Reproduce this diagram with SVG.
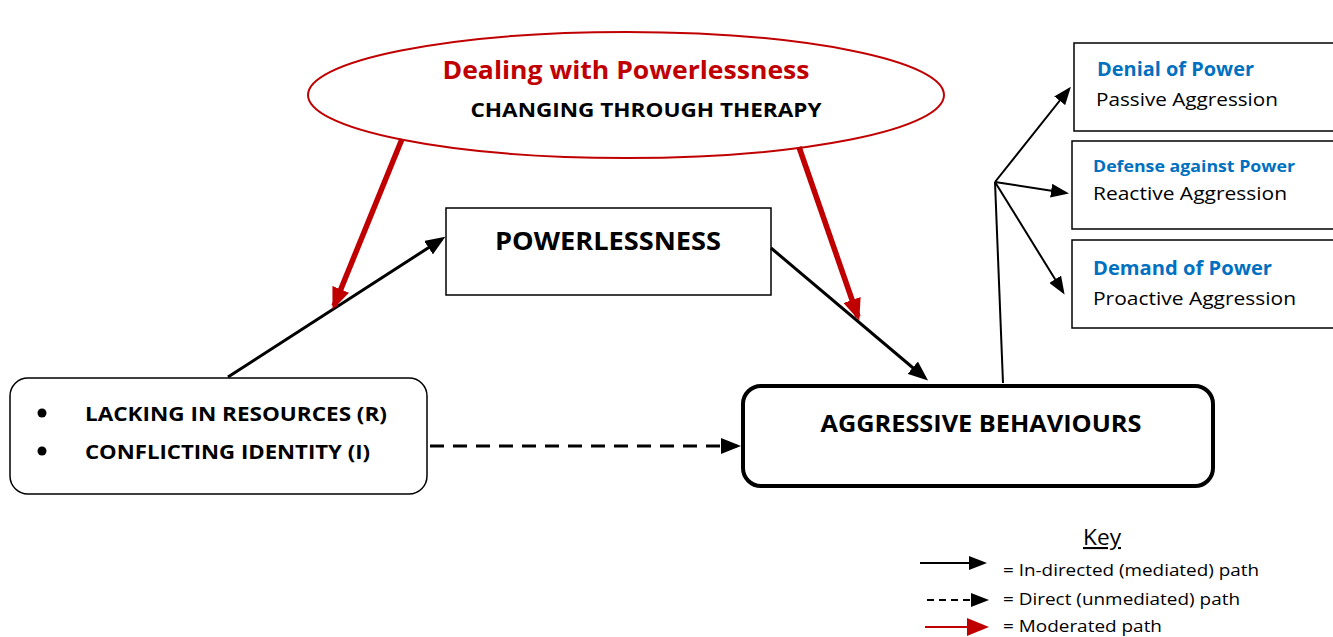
<svg xmlns="http://www.w3.org/2000/svg" width="1333" height="637" viewBox="0 0 1333 637">
<style>
text{font-family:"Open Sans","Noto Sans","Liberation Sans",sans-serif;}
.b{font-weight:bold;}
.blue{fill:#0070C0;font-weight:bold;}
.red{fill:#C00000;font-weight:bold;}
.ln{stroke:#000;stroke-width:3;fill:none;}
.thin{stroke:#000;stroke-width:2;fill:none;}
.rl{stroke:#C00000;stroke-width:5.5;fill:none;}
.box{fill:#fff;stroke:#000;stroke-width:1.5;}
</style>
<defs>
<marker id="ah" markerUnits="userSpaceOnUse" markerWidth="20" markerHeight="16" viewBox="0 0 20 16" refX="16" refY="8" orient="auto">
<path d="M0,0 L20,8 L0,16 z" fill="#000"/>
</marker>
<marker id="ahs" markerUnits="userSpaceOnUse" markerWidth="18" markerHeight="14" viewBox="0 0 18 14" refX="15" refY="7" orient="auto">
<path d="M0,0 L18,7 L0,14 z" fill="#000"/>
</marker>
<marker id="ar" markerUnits="userSpaceOnUse" markerWidth="22" markerHeight="18" viewBox="0 0 22 18" refX="18" refY="9" orient="auto">
<path d="M0,0 L22,9 L0,18 z" fill="#C00000"/>
</marker>
</defs>

<g id="therapy">
<ellipse cx="626" cy="95" rx="318" ry="63" fill="#fff" stroke="#C00000" stroke-width="2"/>
<text x="626" y="79" text-anchor="middle" font-size="25" class="red" textLength="367" lengthAdjust="spacingAndGlyphs">Dealing with Powerlessness</text>
<text x="646" y="117" text-anchor="middle" font-size="20" class="b" textLength="351" lengthAdjust="spacingAndGlyphs">CHANGING THROUGH THERAPY</text>
</g>

<g id="powerlessness">
<rect x="446" y="208" width="325" height="87" class="box"/>
<text x="608" y="250" text-anchor="middle" font-size="25" class="b" textLength="226" lengthAdjust="spacingAndGlyphs">POWERLESSNESS</text>
</g>

<g id="causes">
<rect x="10" y="378" width="417" height="116" rx="18" class="box"/>
<circle cx="42" cy="413" r="4.5" fill="#000"/>
<circle cx="42" cy="451" r="4.5" fill="#000"/>
<text x="85" y="421" font-size="20" class="b" textLength="302" lengthAdjust="spacingAndGlyphs">LACKING IN RESOURCES (R)</text>
<text x="85" y="459" font-size="20" class="b" textLength="285" lengthAdjust="spacingAndGlyphs">CONFLICTING IDENTITY (I)</text>
</g>

<g id="aggressive">
<rect x="743" y="386" width="470" height="100" rx="18" fill="#fff" stroke="#000" stroke-width="4"/>
<text x="981" y="432" text-anchor="middle" font-size="23" class="b" textLength="321" lengthAdjust="spacingAndGlyphs">AGGRESSIVE BEHAVIOURS</text>
</g>

<g id="passive">
<rect x="1074" y="43" width="270" height="88" class="box"/>
<text x="1097" y="76" font-size="19" class="blue" textLength="157" lengthAdjust="spacingAndGlyphs">Denial of Power</text>
<text x="1096" y="106" font-size="19" textLength="182" lengthAdjust="spacingAndGlyphs">Passive Aggression</text>
</g>

<g id="reactive">
<rect x="1072" y="141" width="270" height="88" class="box"/>
<text x="1093" y="172" font-size="16.5" class="blue" textLength="202" lengthAdjust="spacingAndGlyphs">Defense against Power</text>
<text x="1093" y="200" font-size="19" textLength="194" lengthAdjust="spacingAndGlyphs">Reactive Aggression</text>
</g>

<g id="proactive">
<rect x="1072" y="240" width="270" height="88" class="box"/>
<text x="1093" y="275" font-size="19" class="blue" textLength="179" lengthAdjust="spacingAndGlyphs">Demand of Power</text>
<text x="1093" y="305" font-size="19" textLength="203" lengthAdjust="spacingAndGlyphs">Proactive Aggression</text>
</g>

<g id="connectors">
<line x1="228" y1="377" x2="442" y2="239" class="ln" marker-end="url(#ah)"/>
<line x1="771" y1="248" x2="925" y2="378" class="ln" marker-end="url(#ah)"/>
<line x1="430" y1="446" x2="737" y2="446" class="ln" stroke-dasharray="14,9" marker-end="url(#ah)"/>
<line x1="402" y1="139" x2="334" y2="306" class="rl" marker-end="url(#ar)"/>
<line x1="799" y1="147" x2="858" y2="317" class="rl" marker-end="url(#ar)"/>
<polyline points="1003,383 995,182" class="thin"/>
<line x1="995" y1="182" x2="1069" y2="89" class="thin" marker-end="url(#ahs)"/>
<line x1="995" y1="182" x2="1066" y2="193" class="thin" marker-end="url(#ahs)"/>
<line x1="995" y1="182" x2="1063" y2="292" class="thin" marker-end="url(#ahs)"/>
</g>

<g id="key">
<text x="1102" y="545" text-anchor="middle" font-size="21" text-decoration="underline" textLength="38" lengthAdjust="spacingAndGlyphs">Key</text>
<line x1="920" y1="563" x2="984" y2="563" class="thin" marker-end="url(#ahs)"/>
<text x="1003" y="576" font-size="16.5" textLength="256" lengthAdjust="spacingAndGlyphs">= In-directed (mediated) path</text>
<line x1="927" y1="600" x2="986" y2="600" class="thin" stroke-dasharray="7,5" marker-end="url(#ahs)"/>
<text x="1003" y="605" font-size="16.5" textLength="237" lengthAdjust="spacingAndGlyphs">= Direct (unmediated) path</text>
<line x1="925" y1="627" x2="985" y2="627" stroke="#C00000" stroke-width="2" marker-end="url(#ar)"/>
<text x="1003" y="632" font-size="16.5" textLength="159" lengthAdjust="spacingAndGlyphs">= Moderated path</text>
</g>
</svg>
